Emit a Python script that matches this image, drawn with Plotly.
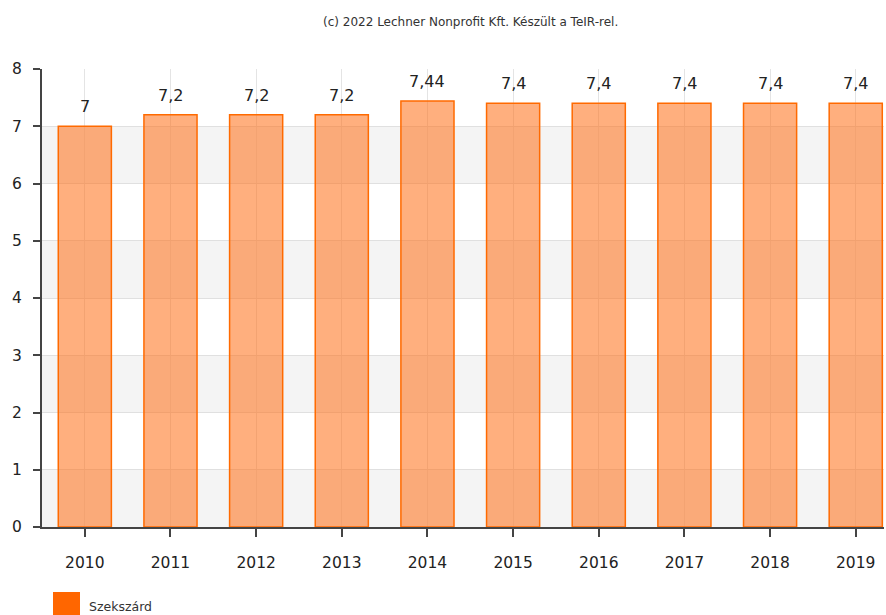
import plotly.graph_objects as go

years = ["2010", "2011", "2012", "2013", "2014", "2015", "2016", "2017", "2018", "2019"]
values = [7, 7.2, 7.2, 7.2, 7.44, 7.4, 7.4, 7.4, 7.4, 7.4]
series_name = "Szekszárd"
credit = "(c) 2022 Lechner Nonprofit Kft. Készült a TeIR-rel."

W, H = 886, 615
ML, MR, MT, MB = 42, 2, 69, 88

fig = go.Figure()
fig.add_trace(go.Bar(
    x=list(range(len(years))),
    y=values,
    name=series_name,
    width=0.62,
    marker=dict(color="rgba(255,110,20,0.55)", line=dict(color="#ff6a00", width=1.5)),
    showlegend=False,
))

# value labels above each bar
annotations = []
for i, v in enumerate(values):
    annotations.append(dict(x=i, y=v, xref="x", yref="y", text=f"{v:g}".replace(".", ","),
                            showarrow=False, yanchor="bottom", yshift=8,
                            font=dict(size=16, color="#222")))

# alternating horizontal bands
shapes = []
for k in range(0, 8, 2):
    shapes.append(dict(type="rect", xref="paper", yref="y", x0=0, x1=1, y0=k, y1=k + 1,
                       fillcolor="#f4f4f4", line=dict(width=0), layer="below"))

# legend swatch
PW, PH = W - ML - MR, H - MT - MB
shapes.append(dict(type="rect", xref="paper", yref="paper",
                   x0=(53 - ML) / PW, x1=(80 - ML) / PW,
                   y0=-(592 - (H - MB)) / PH, y1=-(616 - (H - MB)) / PH,
                   fillcolor="#ff6600", line=dict(width=0)))

annotations += [
    dict(text=credit, xref="paper", yref="paper", x=(470 - ML) / PW, y=1,
         yshift=47, yanchor="middle", showarrow=False, font=dict(size=12, color="#333"), xanchor="center"),
    dict(text=series_name, xref="paper", yref="paper",
         x=(87 - ML) / PW, y=-(606 - (H - MB)) / PH,
         xanchor="left", yanchor="middle", showarrow=False, font=dict(size=12.5, color="#333")),
]

fig.update_layout(
    width=W, height=H,
    margin=dict(l=ML, r=MR, t=MT, b=MB),
    paper_bgcolor="white", plot_bgcolor="white",
    bargap=0.38,
    shapes=shapes,
    annotations=annotations,
    font=dict(family="DejaVu Sans", color="#222"),
)
fig.update_xaxes(
    tickmode="array", tickvals=list(range(len(years))), ticktext=years,
    range=[-0.5, 9.33],
    showgrid=True, gridcolor="#e4e4e4", gridwidth=1,
    showline=True, linecolor="#444", linewidth=2,
    ticks="outside", ticklen=8, tickcolor="#444", tickwidth=1.5,
    ticklabelstandoff=12,
    tickfont=dict(size=15.5, color="#222"),
    zeroline=False,
)
fig.update_yaxes(
    range=[0, 8], dtick=1,
    showgrid=True, gridcolor="#e0e0e0", gridwidth=1,
    showline=True, linecolor="#444", linewidth=2,
    ticks="outside", ticklen=7, tickcolor="#444", tickwidth=1.5,
    ticklabelstandoff=8,
    tickfont=dict(size=15.5, color="#222"),
    zeroline=False,
)

fig.write_html("out.html")
